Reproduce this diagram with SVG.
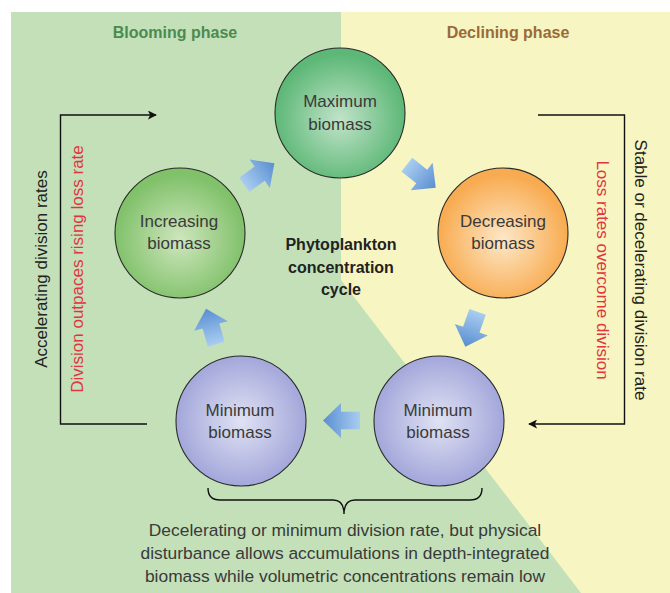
<svg xmlns="http://www.w3.org/2000/svg" width="670" height="593" viewBox="0 0 670 593">
<style>
.t{font-family:"Liberation Sans",Arial,sans-serif;font-size:17px;fill:#3a3a3a;text-anchor:middle}
.n{font-size:17.4px}
.b{font-family:"Liberation Sans",Arial,sans-serif;font-weight:bold;text-anchor:middle}
.side{font-family:"Liberation Sans",Arial,sans-serif;font-size:17px;text-anchor:middle}
.circ{stroke:#2a2a2a;stroke-width:1.1}
.line{fill:none;stroke:#111;stroke-width:1.4}
.blue{fill:url(#ag)}
</style>
<defs>
<radialGradient id="gMax" cx="0.5" cy="0.55" r="0.5"><stop offset="0" stop-color="#c2e3c9"/><stop offset="1" stop-color="#5db877"/></radialGradient>
<radialGradient id="gInc" cx="0.5" cy="0.55" r="0.5"><stop offset="0" stop-color="#cfe6bd"/><stop offset="1" stop-color="#80c16a"/></radialGradient>
<radialGradient id="gDec" cx="0.5" cy="0.55" r="0.5"><stop offset="0" stop-color="#fde8c8"/><stop offset="1" stop-color="#f8ab50"/></radialGradient>
<radialGradient id="gMin" cx="0.5" cy="0.5" r="0.5"><stop offset="0" stop-color="#e0e2f3"/><stop offset="1" stop-color="#a3a7da"/></radialGradient>
<linearGradient id="ag" x1="0" y1="0" x2="1" y2="0"><stop offset="0" stop-color="#a9cdf0"/><stop offset="1" stop-color="#5a8ed2"/></linearGradient>
<polygon id="barrow" points="-19,-8.7 0,-8.7 0,-17.5 18,0 0,17.5 0,8.7 -19,8.7"/>
<marker id="ah" viewBox="0 0 10 10" refX="9" refY="5" markerWidth="9" markerHeight="9" markerUnits="userSpaceOnUse" orient="auto"><path d="M0,0 L10,5 L0,10 L2.5,5 z" fill="#111"/></marker>
</defs>

<g id="background">
<rect x="11" y="12" width="659" height="581" fill="#c3e0b9"/>
<polygon points="341,12 670,12 670,593 581,593 341,280" fill="#f7f5c1"/>
</g>

<g id="titles">
<text class="b" x="175" y="38" font-size="16" fill="#4b8b50">Blooming phase</text>
<text class="b" x="508" y="38" font-size="16" fill="#9a6a3b">Declining phase</text>
</g>

<g id="connectors">
<polyline class="line" points="147,424 60.5,424 60.5,115 156,115" marker-end="url(#ah)"/>
<polyline class="line" points="538,115 624.5,115 624.5,424 529,424" marker-end="url(#ah)"/>
<path class="line" d="M208,488 Q208,500 220,500 L333,500 Q344,500 344,514 Q344,500 355,500 L470,500 Q482,500 482,488" stroke="#333" stroke-width="1.2"/>
<use href="#barrow" class="blue" transform="translate(259.7,173.7) rotate(-35.5)"/>
<use href="#barrow" class="blue" transform="translate(421.7,176.5) rotate(38.7)"/>
<use href="#barrow" class="blue" transform="translate(471.3,329.7) rotate(109.3)"/>
<use href="#barrow" class="blue" transform="translate(341,420.5) rotate(180)"/>
<use href="#barrow" class="blue" transform="translate(211,326) rotate(-106)"/>
</g>

<g id="node-max">
<circle class="circ" cx="340" cy="113" r="65" fill="url(#gMax)"/>
<text class="t" x="340" y="107">Maximum</text>
<text class="t" x="340" y="130">biomass</text>
</g>
<g id="node-increasing">
<circle class="circ" cx="180" cy="233" r="65" fill="url(#gInc)"/>
<text class="t" x="179" y="227">Increasing</text>
<text class="t" x="179" y="249">biomass</text>
</g>
<g id="node-decreasing">
<circle class="circ" cx="503" cy="233" r="65" fill="url(#gDec)"/>
<text class="t" x="503" y="227">Decreasing</text>
<text class="t" x="503" y="249">biomass</text>
</g>
<g id="node-min-left">
<circle class="circ" cx="241" cy="421" r="65" fill="url(#gMin)"/>
<text class="t" x="240" y="416">Minimum</text>
<text class="t" x="240" y="438">biomass</text>
</g>
<g id="node-min-right">
<circle class="circ" cx="439" cy="421" r="65" fill="url(#gMin)"/>
<text class="t" x="438" y="416">Minimum</text>
<text class="t" x="438" y="438">biomass</text>
</g>

<g id="center-label">
<text class="b" x="341" y="250" font-size="16" fill="#222">Phytoplankton</text>
<text class="b" x="341" y="273" font-size="16" fill="#222">concentration</text>
<text class="b" x="341" y="295" font-size="16" fill="#222">cycle</text>
</g>

<g id="side-labels">
<text class="side" fill="#222" transform="translate(47,269) rotate(-90)">Accelerating division rates</text>
<text class="side" fill="#e2343f" transform="translate(83,269) rotate(-90)">Division outpaces rising loss rate</text>
<text class="side" fill="#222" transform="translate(635,270) rotate(90)">Stable or decelerating division rate</text>
<text class="side" fill="#e2343f" transform="translate(597,270) rotate(90)">Loss rates overcome division</text>
</g>

<g id="bottom-note">
<text class="t n" x="345" y="536">Decelerating or minimum division rate, but physical</text>
<text class="t n" x="345" y="559">disturbance allows accumulations in depth-integrated</text>
<text class="t n" x="345" y="582">biomass while volumetric concentrations remain low</text>
</g>
</svg>
